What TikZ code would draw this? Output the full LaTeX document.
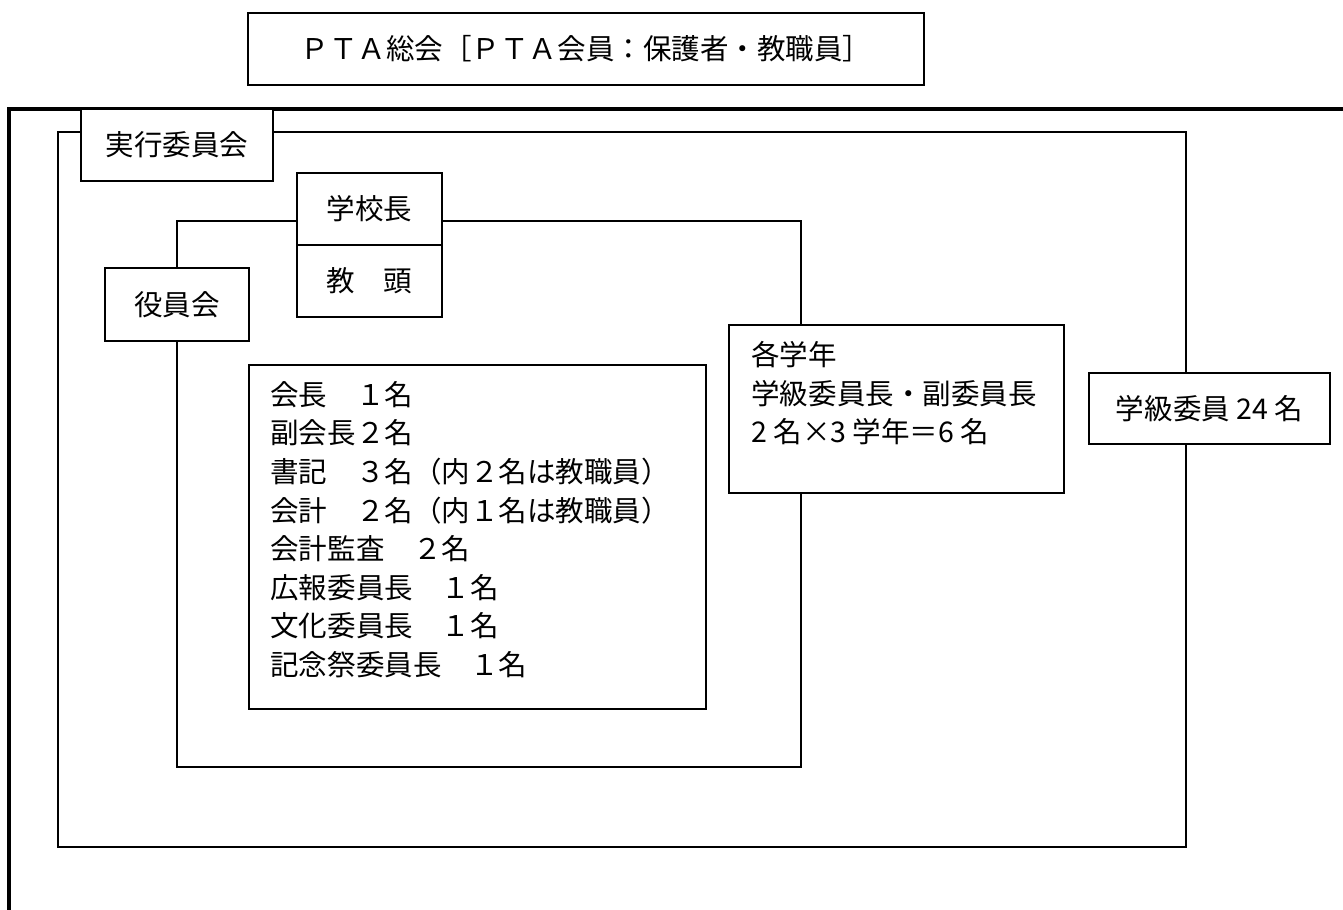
\documentclass[tikz,border=0pt]{standalone}
\usepackage{fontspec}
\setmainfont{Noto Sans CJK JP}
\usetikzlibrary{positioning}
\newlength\px
\setlength\px{0.75pt}
\tikzset{
  jbox/.style={draw,fill=white,line width=1.3pt,inner sep=0pt,
    font=\fontsize{21.4}{28.9}\selectfont},
  jtext/.style={inner sep=0pt,align=left,font=\fontsize{21.4}{28.9}\selectfont},
  frame/.style={line width=1.3pt},
}
\begin{document}
\begin{tikzpicture}[x=0.75pt,y=-0.75pt]
  \useasboundingbox (0,0) rectangle (1343,910);
  \coordinate (obl) at (9,910);
  \coordinate (otr) at (1343,109);
  \coordinate (jtl) at (58,132);
  \coordinate (jbr) at (1186,847);
  \coordinate (ytl) at (177,221);
  \coordinate (ybr) at (801,767);
  \draw[line width=2.3pt] (obl) |- (otr);
  \node[jbox,minimum width=676\px,minimum height=72\px] (sokai) at (586,49)
    {ＰＴＡ総会［ＰＴＡ会員：保護者・教職員］};
  \node[jbox,minimum width=192\px,minimum height=72\px] (jikko) at (177,145) {実行委員会};
  \node[jbox,minimum width=144\px,minimum height=73\px] (yakuin) at (177,304.5) {役員会};
  \node[jbox,minimum width=145\px,minimum height=72\px] (kocho) at (369.5,209) {学校長};
  \node[jbox,minimum width=145\px,minimum height=72\px,below=-1.3pt of kocho] (kyoto) {教　頭};
  \node[jbox,minimum width=457\px,minimum height=344\px] (list) at (477.5,537) {};
  \node[jtext,below right=17\px and 22\px of list.north west] (listtext)
    {会長　１名\\副会長２名\\書記　３名（内２名は教職員）\\会計　２名（内１名は教職員）\\
     会計監査　２名\\広報委員長　１名\\文化委員長　１名\\記念祭委員長　１名};
  \node[jbox,minimum width=335\px,minimum height=168\px] (gakunen) at (896.5,409) {};
  \node[jtext,below right=17\px and 23\px of gakunen.north west] (gakunentext)
    {各学年\\学級委員長・副委員長\\2 名×3 学年＝6 名};
  \node[jbox,minimum width=241\px,minimum height=71\px] (gakkyu) at (1209.5,408.5) {学級委員 24 名};
  \draw[frame] (jikko.west |- jtl) -- (jtl) -- (jtl |- jbr) -- (jbr) -- (gakkyu.south -| jbr);
  \draw[frame] (jikko.east |- jtl) -- (jbr |- jtl) -- (gakkyu.north -| jbr);
  \draw[frame] (yakuin.north) -- (ytl) -- (kocho.west |- ytl);
  \draw[frame] (kocho.east |- ytl) -- (ybr |- ytl) -- (gakunen.north -| ybr);
  \draw[frame] (yakuin.south) -- (ytl |- ybr) -- (ybr) -- (gakunen.south -| ybr);
\end{tikzpicture}
\end{document}
